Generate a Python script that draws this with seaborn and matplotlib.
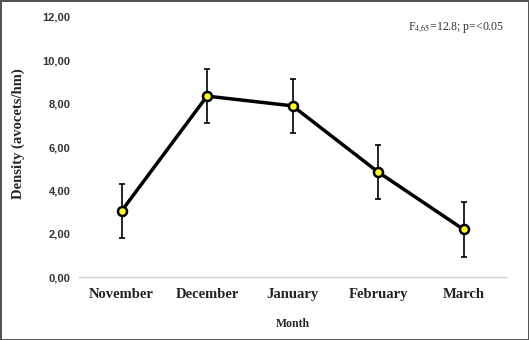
import numpy as np
import pandas as pd
import matplotlib
matplotlib.use("Agg")
import matplotlib.pyplot as plt
import seaborn as sns
sns.set_theme(style="white")
plt.rcParams['mathtext.fontset'] = 'stix'

# Data
months = ["November", "December", "January", "February", "March"]
density = [3.05, 8.35, 7.90, 4.85, 2.20]
err = [1.24, 1.25, 1.25, 1.23, 1.26]

df = pd.DataFrame({"Month": months, "Density": density})

fig, ax = plt.subplots(figsize=(5.29, 3.40), dpi=100)
fig.subplots_adjust(left=0.149, right=0.957, top=0.95, bottom=0.185)
fig.patch.set_edgecolor("#555555")
fig.patch.set_linewidth(2)

sns.pointplot(data=df, x="Month", y="Density", color="black", linewidth=2.5,
              markers="o", markersize=6.5, errorbar=None, ax=ax,
              markerfacecolor="#ffff1a", markeredgecolor="black", markeredgewidth=1.8)
ax.errorbar(np.arange(len(months)), density, yerr=err, fmt="none",
            ecolor="black", elinewidth=1.2, capsize=2.5, capthick=1.2, zorder=1)

ax.set_ylim(0, 12)
ax.set_xlim(-0.5, 4.5)
ax.set_yticks(np.arange(0, 13, 2))
ax.set_yticklabels([f"{v:.2f}".replace(".", ",") for v in np.arange(0, 13, 2)],
                   fontfamily="Liberation Sans", fontweight="bold", fontsize=8, color="#333333")
ax.set_xticks(range(len(months)))
ax.set_xticklabels(months, fontfamily="Liberation Serif", fontweight="bold", fontsize=10.5, color="#222222")
ax.tick_params(axis="y", length=0, pad=6)
ax.tick_params(axis="x", length=0, pad=8)

for s in ["top", "right", "left"]:
    ax.spines[s].set_visible(False)
ax.spines["bottom"].set_color("#d0d0d0")
ax.spines["bottom"].set_linewidth(1)

ax.set_ylabel("Density (avocets/hm)", fontfamily="Liberation Serif", fontweight="bold", fontsize=10.5)
ax.yaxis.set_label_coords(-0.125, 0.55)
ax.set_xlabel("Month", fontfamily="Liberation Serif", fontweight="bold", fontsize=8.5, labelpad=12)

ax.text(0.77, 0.96, r"F$_{4{,}65}$=12.8; p=<0.05", transform=ax.transAxes,
        fontfamily="Liberation Serif", fontsize=8.5, color="#333333", va="center")

fig.savefig("out.png", dpi=100, edgecolor=fig.get_edgecolor())
